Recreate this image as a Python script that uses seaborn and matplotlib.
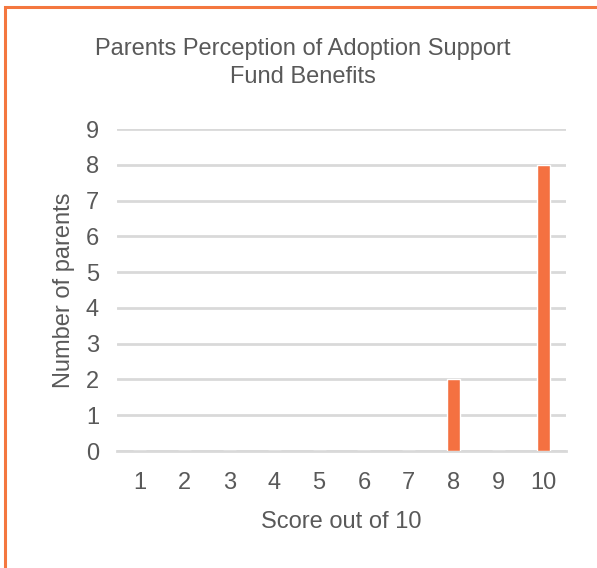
import matplotlib
matplotlib.use("Agg")
import matplotlib.pyplot as plt
import seaborn as sns
import pandas as pd
from matplotlib.patches import Rectangle

# Survey results: how many parents gave each score
scores = [1, 2, 3, 4, 5, 6, 7, 8, 9, 10]
parents = [0, 0, 0, 0, 0, 0, 0, 2, 0, 8]
y_ticks = [0, 1, 2, 3, 4, 5, 6, 7, 8, 9]

title = "Parents Perception of Adoption Support\nFund Benefits"
x_label = "Score out of 10"
y_label = "Number of parents"

sns.set_theme(style="white")
plt.rcParams["font.family"] = ["Liberation Sans", "DejaVu Sans"]

text_color = "#595959"
bar_color = "#F47141"
grid_color = "#D9D9D9"
font_size = 17

df = pd.DataFrame({"score": [str(s) for s in scores], "count": parents})

fig = plt.figure(figsize=(5.97, 5.68), dpi=100)
ax = fig.add_axes([117 / 597, 1 - 451 / 568, 449 / 597, (451 - 129) / 568])

sns.barplot(data=df, x="score", y="count", color=bar_color, width=0.29,
            saturation=1, ax=ax, zorder=3)

ax.set_ylim(0, 9)
ax.set_yticks(y_ticks)
ax.set_yticklabels([str(v) for v in y_ticks])
ax.yaxis.grid(True, color=grid_color, linewidth=2, zorder=0)
ax.xaxis.grid(False)
for side in ["top", "right", "left"]:
    ax.spines[side].set_visible(False)
ax.spines["bottom"].set_color(grid_color)
ax.spines["bottom"].set_linewidth(2)
ax.spines["bottom"].set_zorder(1)

ax.tick_params(axis="both", length=0, labelsize=font_size, labelcolor=text_color)
ax.tick_params(axis="x", pad=15)
ax.tick_params(axis="y", pad=13)

ax.set_xlabel(x_label, fontsize=font_size, color=text_color, labelpad=12)
ax.set_ylabel(y_label, fontsize=font_size, color=text_color, labelpad=8)

fig.text(303 / 597, 1 - 63 / 568, title, ha="center", va="center",
         fontsize=font_size, color=text_color, linespacing=1.35)

# Orange frame around the chart area
fig.patches.append(Rectangle((5 / 597, -0.05), 1.2, 1 - 7 / 568 + 0.05,
                             transform=fig.transFigure, fill=False,
                             edgecolor="#F4773F", linewidth=2.2))

fig.savefig("out.png", dpi=100)
